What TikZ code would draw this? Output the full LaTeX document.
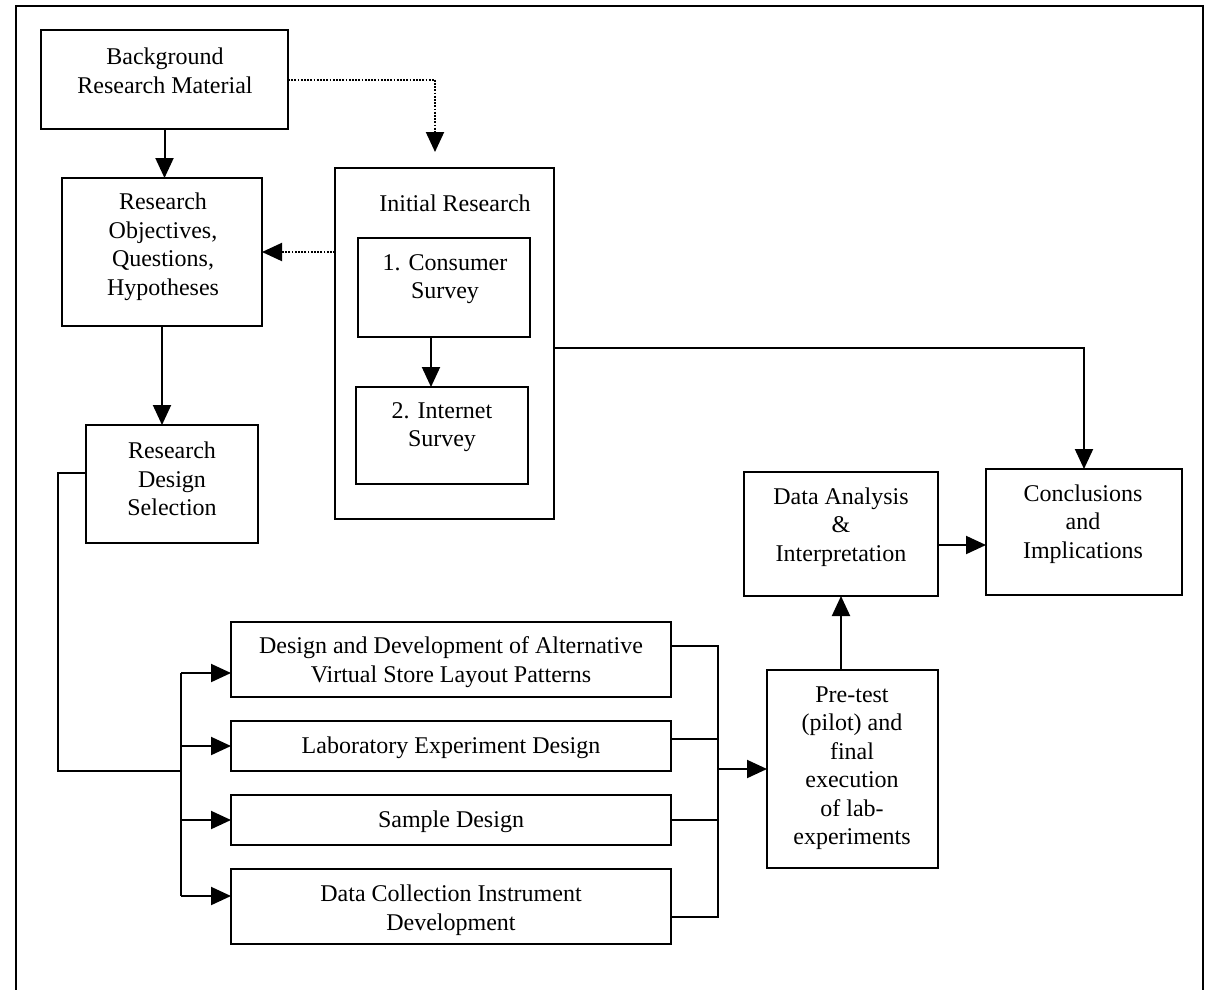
\documentclass[tikz,border=0pt]{standalone}
\usepackage{fontspec}
\setmainfont{Liberation Serif}
\usetikzlibrary{arrows.meta}
\begin{document}
\begin{tikzpicture}[x=1pt,y=-1pt,
  box/.style={draw,line width=2pt,inner sep=0pt,outer sep=0pt},
  txt/.style={align=center,inner sep=0pt,font=\fontsize{24}{28.5}\selectfont},
  link/.style={line width=2pt},
  arr/.style={link,-{Triangle[length=20pt,width=18pt]}},
  dotarr/.style={line width=2pt,dash pattern=on 1.8pt off 1.4pt,
                 -{Triangle[length=20pt,width=18pt]}},
  frame/.style={line width=2pt}]
\useasboundingbox (0,0) rectangle (1208,989);

% outer frame (open at the bottom)
\draw[frame] (16,1000) -- (16,6) -- (1203,6) -- (1203,1000);

% boxes
\node[box,minimum width=247pt,minimum height=99pt]  (bg)  at (164.5,79.5) {};
\node[box,minimum width=200pt,minimum height=148pt] (ro)  at (162,252) {};
\node[box,minimum width=172pt,minimum height=118pt] (rds) at (172,484) {};
\node[box,minimum width=219pt,minimum height=351pt] (ir)  at (444.5,343.5) {};
\node[box,minimum width=172pt,minimum height=99pt]  (cs)  at (444,287.5) {};
\node[box,minimum width=172pt,minimum height=97pt]  (is)  at (442,435.5) {};
\node[box,minimum width=194pt,minimum height=124pt] (da)  at (841,534) {};
\node[box,minimum width=196pt,minimum height=126pt] (ci)  at (1084,532) {};
\node[box,minimum width=171pt,minimum height=198pt] (pt)  at (852.5,769) {};
\node[box,minimum width=440pt,minimum height=75pt]  (d1)  at (451,659.5) {};
\node[box,minimum width=440pt,minimum height=50pt]  (d2)  at (451,746) {};
\node[box,minimum width=440pt,minimum height=50pt]  (d3)  at (451,820) {};
\node[box,minimum width=440pt,minimum height=75pt]  (d4)  at (451,906.5) {};

% labels
\node[txt] (bgt)  at (165,71)  {Background\\Research Material};
\node[txt] (rot)  at (163,247) {Research\\Objectives,\\Questions,\\Hypotheses};
\node[txt] (rdst) at (172,479) {Research\\Design\\Selection};
\node[txt] (irt)  at (455,203) {Initial Research};
\node[txt] (cst)  at (445,279) {1. Consumer\\Survey};
\node[txt] (ist)  at (442,427) {2. Internet\\Survey};
\node[txt] (dat)  at (841,527) {Data Analysis\\\&\\Interpretation};
\node[txt] (cit)  at (1083,524) {Conclusions\\and\\Implications};
\node[txt] (ptt)  at (852,768) {Pre-test\\(pilot) and\\final\\execution\\of lab-\\experiments};
\node[txt] (d1t)  at (451,662) {Design and Development of Alternative\\Virtual Store Layout Patterns};
\node[txt] (d2t)  at (451,748) {Laboratory Experiment Design};
\node[txt] (d3t)  at (451,822) {Sample Design};
\node[txt] (d4t)  at (451,910) {Data Collection Instrument\\Development};

% junction points
\coordinate (irin) at (435,152);
\coordinate (lbus) at (181,771);
\coordinate (lt) at (181,673);
\coordinate (lb) at (181,896);
\coordinate (rt) at (718,646);
\coordinate (rb) at (718,917);

% main flow
\draw[arr] (bg.south) -- (bg.south |- ro.north);
\draw[arr] (ro.south) -- (ro.south |- rds.north);
\draw[arr] ([xshift=-13pt]cs.south) -- ([xshift=-13pt]cs.south |- is.north);
\draw[dotarr] (bg.east) -| (irin);
\draw[dotarr] (ir.west |- ro.east) -- (ro.east);
\draw[arr] ([yshift=-4.5pt]ir.east) -| (ci.north);
\draw[arr] (da.east |- 0,545) -- (ci.west |- 0,545);
\draw[arr] (pt.north -| da.south) -- (da.south);

% fan-out to the design tasks
\draw[link] (rds.west |- 0,473) -| (58,771) -- (lbus);
\draw[link] (lt) -- (lb);
\draw[arr] (lt) -- (d1.west |- lt);
\draw[arr] (d2.west -| lt) -- (d2.west);
\draw[arr] (d3.west -| lt) -- (d3.west);
\draw[arr] (lb) -- (d4.west |- lb);

% fan-in to the lab experiments
\draw[link] (d1.east |- rt) -- (rt) -- (rb) -- (d4.east |- rb);
\draw[link] (d2.east |- 0,739) -- (rt |- 0,739);
\draw[link] (d3.east) -- (d3.east -| rt);
\draw[arr] (pt.west -| rt) -- (pt.west);
\end{tikzpicture}
\end{document}
